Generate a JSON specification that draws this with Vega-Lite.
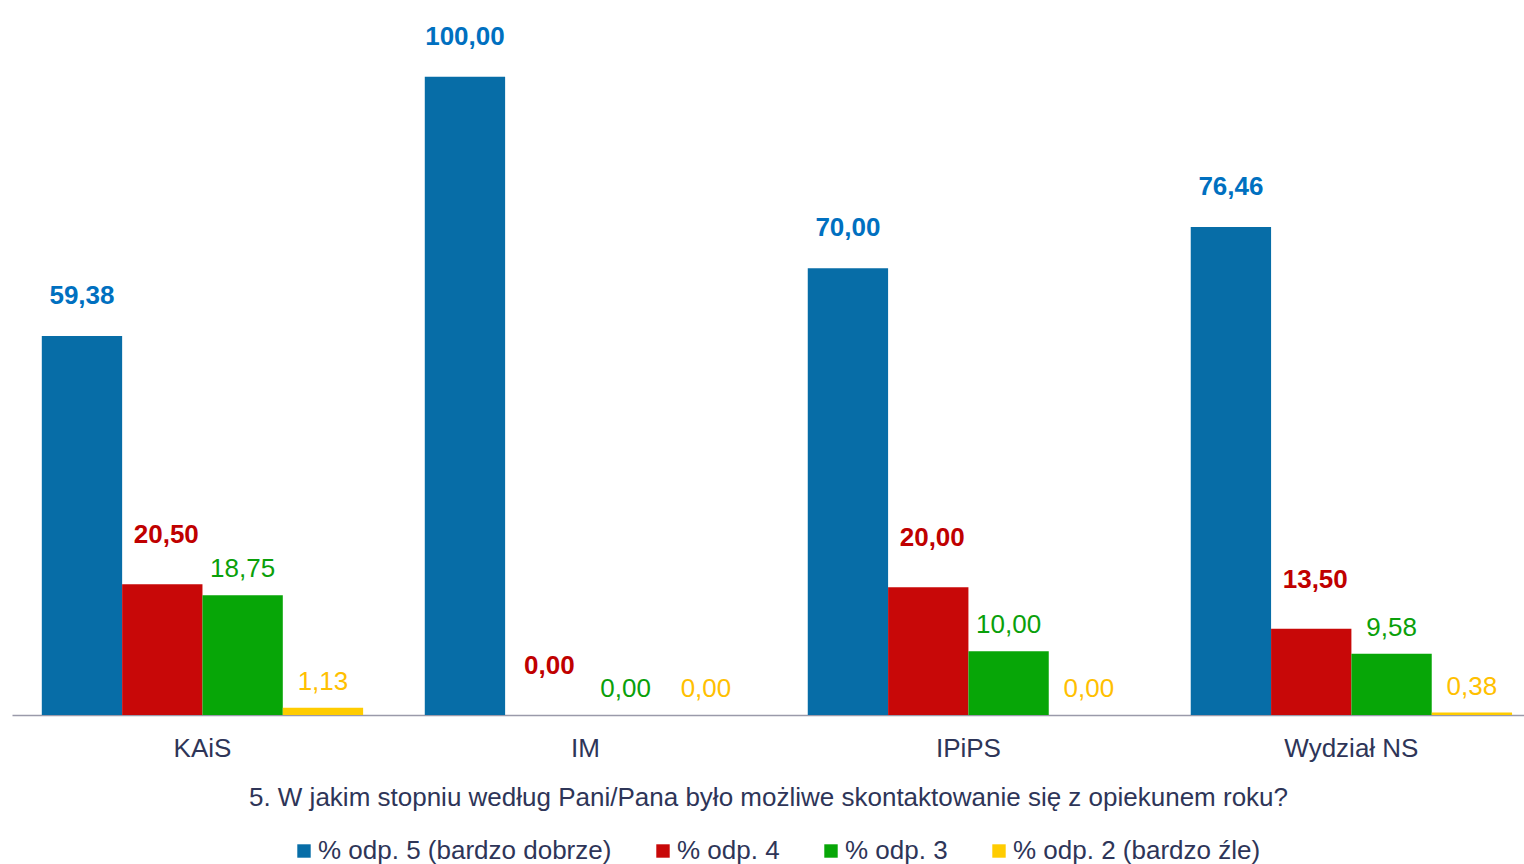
{
  "$schema": "https://vega.github.io/schema/vega-lite/v6.json",
  "width": 1512,
  "height": 702,
  "autosize": "none",
  "padding": {"left": 12, "top": 13, "right": 0, "bottom": 149},
  "config": {
    "view": {"stroke": null},
    "font": "Liberation Sans",
    "locale": {"number": {"decimal": ",", "thousands": " ", "grouping": [3], "currency": ["", ""]}}
  },
  "data": {
    "values": [
      {"grupa": "KAiS", "seria": "% odp. 5 (bardzo dobrze)", "wartosc": 59.38},
      {"grupa": "KAiS", "seria": "% odp. 4", "wartosc": 20.50},
      {"grupa": "KAiS", "seria": "% odp. 3", "wartosc": 18.75},
      {"grupa": "KAiS", "seria": "% odp. 2 (bardzo źle)", "wartosc": 1.13},
      {"grupa": "IM", "seria": "% odp. 5 (bardzo dobrze)", "wartosc": 100.00},
      {"grupa": "IM", "seria": "% odp. 4", "wartosc": 0.00},
      {"grupa": "IM", "seria": "% odp. 3", "wartosc": 0.00},
      {"grupa": "IM", "seria": "% odp. 2 (bardzo źle)", "wartosc": 0.00},
      {"grupa": "IPiPS", "seria": "% odp. 5 (bardzo dobrze)", "wartosc": 70.00},
      {"grupa": "IPiPS", "seria": "% odp. 4", "wartosc": 20.00},
      {"grupa": "IPiPS", "seria": "% odp. 3", "wartosc": 10.00},
      {"grupa": "IPiPS", "seria": "% odp. 2 (bardzo źle)", "wartosc": 0.00},
      {"grupa": "Wydział NS", "seria": "% odp. 5 (bardzo dobrze)", "wartosc": 76.46},
      {"grupa": "Wydział NS", "seria": "% odp. 4", "wartosc": 13.50},
      {"grupa": "Wydział NS", "seria": "% odp. 3", "wartosc": 9.58},
      {"grupa": "Wydział NS", "seria": "% odp. 2 (bardzo źle)", "wartosc": 0.38}
    ]
  },
  "encoding": {
    "x": {
      "field": "grupa",
      "type": "nominal",
      "sort": ["KAiS", "IM", "IPiPS", "Wydział NS"],
      "scale": {"paddingInner": 0.161, "paddingOuter": 0.0545, "align": 0.714},
      "title": "5. W jakim stopniu według Pani/Pana było możliwe skontaktowanie się z opiekunem roku?",
      "axis": {
        "labelAngle": 0,
        "labelFontSize": 26,
        "labelColor": "#2e3558",
        "labelPadding": 20,
        "ticks": false,
        "domainColor": "#9a9aaa",
        "domainWidth": 1.5,
        "grid": false,
        "titleFontSize": 26,
        "titleFontWeight": "normal",
        "titleColor": "#2e3558",
        "titlePadding": 23
      }
    },
    "xOffset": {
      "field": "seria",
      "type": "nominal",
      "scale": {
        "domain": ["% odp. 5 (bardzo dobrze)", "% odp. 4", "% odp. 3", "% odp. 2 (bardzo źle)"],
        "paddingInner": 0,
        "paddingOuter": 0
      }
    },
    "y": {
      "field": "wartosc",
      "type": "quantitative",
      "scale": {"domain": [0, 110], "nice": false},
      "axis": null
    }
  },
  "layer": [
    {
      "mark": {"type": "bar"},
      "encoding": {
        "color": {
          "field": "seria",
          "type": "nominal",
          "scale": {
            "domain": ["% odp. 5 (bardzo dobrze)", "% odp. 4", "% odp. 3", "% odp. 2 (bardzo źle)"],
            "range": ["#076DA7", "#C80808", "#07A607", "#FFCC00"]
          },
          "legend": {
            "orient": "none",
            "legendX": 279,
            "legendY": 825,
            "direction": "horizontal",
            "title": null,
            "symbolType": "square",
            "symbolSize": 180,
            "symbolStrokeWidth": 0,
            "symbolOpacity": 1,
            "labelFontSize": 26,
            "labelColor": "#2e3558",
            "labelOffset": 1,
            "columnPadding": 38,
            "labelLimit": 0
          }
        }
      }
    },
    {
      "transform": [{"filter": "datum.seria === '% odp. 5 (bardzo dobrze)'"}],
      "mark": {"type": "text", "baseline": "middle", "dy": -40, "fontSize": 26, "fontWeight": "bold", "color": "#0070C0"},
      "encoding": {"text": {"field": "wartosc", "type": "quantitative", "format": ".2f"}}
    },
    {
      "transform": [{"filter": "datum.seria === '% odp. 4'"}],
      "mark": {"type": "text", "baseline": "middle", "dy": -49, "dx": 4, "fontSize": 26, "fontWeight": "bold", "color": "#C00000"},
      "encoding": {"text": {"field": "wartosc", "type": "quantitative", "format": ".2f"}}
    },
    {
      "transform": [{"filter": "datum.seria === '% odp. 3'"}],
      "mark": {"type": "text", "baseline": "middle", "dy": -26, "fontSize": 26, "color": "#0AA00A"},
      "encoding": {"text": {"field": "wartosc", "type": "quantitative", "format": ".2f"}}
    },
    {
      "transform": [{"filter": "datum.seria === '% odp. 2 (bardzo źle)'"}],
      "mark": {"type": "text", "baseline": "middle", "dy": -26, "fontSize": 26, "color": "#FFC000"},
      "encoding": {"text": {"field": "wartosc", "type": "quantitative", "format": ".2f"}}
    }
  ]
}
